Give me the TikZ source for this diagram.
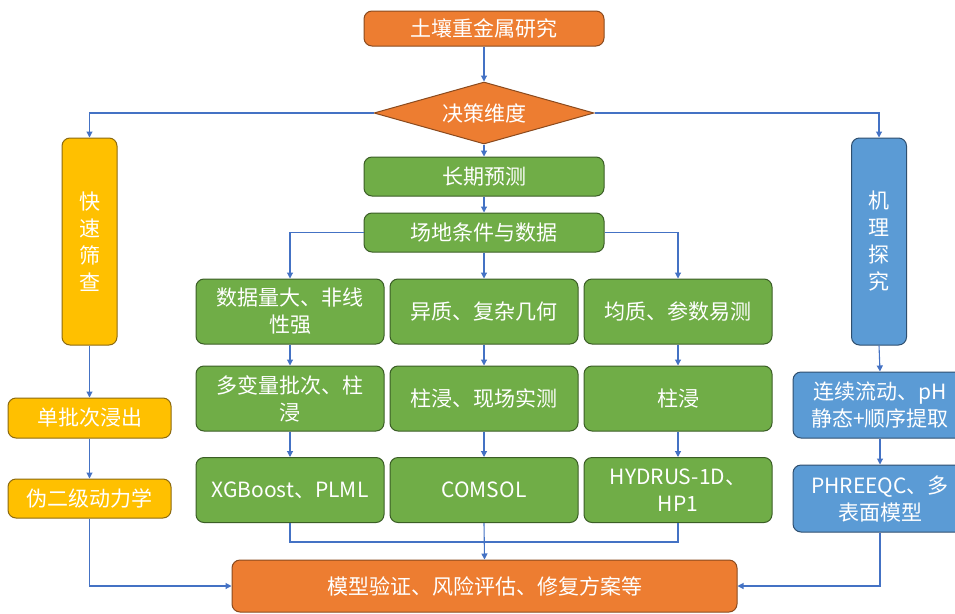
\documentclass[tikz,border=0pt]{standalone}
\usepackage{fontspec}
\setmainfont{Noto Sans CJK SC}
\usetikzlibrary{arrows.meta,shapes.geometric}
\definecolor{cOrange}{HTML}{ED7D31}
\definecolor{cOrangeD}{HTML}{8A4A1E}
\definecolor{cGreen}{HTML}{70AD47}
\definecolor{cGreenD}{HTML}{3B5E26}
\definecolor{cYellow}{HTML}{FFC000}
\definecolor{cYellowD}{HTML}{8C6A10}
\definecolor{cBlue}{HTML}{5B9BD5}
\definecolor{cBlueD}{HTML}{2F4F6F}
\definecolor{cLine}{HTML}{4472C4}
\tikzset{
  x=1pt,y=-1pt,
  boxbase/.style={rectangle,rounded corners=8pt,line width=1pt,text=white,
    font=\fontsize{21}{27}\selectfont,align=center,inner sep=0pt},
  obox/.style={boxbase,fill=cOrange,draw=cOrangeD},
  gbox/.style={boxbase,fill=cGreen,draw=cGreenD},
  ybox/.style={boxbase,fill=cYellow,draw=cYellowD},
  bbox/.style={boxbase,fill=cBlue,draw=cBlueD},
  conn/.style={draw=cLine,line width=1.1pt},
  arr/.style={conn,-{Triangle[width=6pt,length=6pt]}}
}
\begin{document}
\begin{tikzpicture}
\useasboundingbox[fill=white] (0,0) rectangle (955,613);
% top
\node[obox,minimum width=240pt,minimum height=35pt] (top) at (484,28.5) {土壤重金属研究};
\node[diamond,aspect=3.5,fill=cOrange,draw=cOrangeD,line width=1pt,text=white,
  font=\fontsize{21}{27}\selectfont,inner sep=0pt,
  minimum width=220pt,minimum height=62pt] (dia) at (484,113) {决策维度};
% middle column
\node[gbox,minimum width=240pt,minimum height=39pt] (lt) at (484,176.5) {长期预测};
\node[gbox,minimum width=240pt,minimum height=39pt] (field) at (484,232.5) {场地条件与数据};
\node[gbox,minimum width=188pt,minimum height=65pt] (r1a) at (290,311.5) {数据量大、非线\\性强};
\node[gbox,minimum width=188pt,minimum height=65pt] (r1b) at (484,311.5) {异质、复杂几何};
\node[gbox,minimum width=188pt,minimum height=65pt] (r1c) at (678,311.5) {均质、参数易测};
\node[gbox,minimum width=188pt,minimum height=65pt] (r2a) at (290,398.5) {多变量批次、柱\\浸};
\node[gbox,minimum width=188pt,minimum height=65pt] (r2b) at (484,398.5) {柱浸、现场实测};
\node[gbox,minimum width=188pt,minimum height=65pt] (r2c) at (678,398.5) {柱浸};
\node[gbox,minimum width=188pt,minimum height=65pt] (r3a) at (290,490) {XGBoost、PLML};
\node[gbox,minimum width=188pt,minimum height=65pt] (r3b) at (484,490) {COMSOL};
\node[gbox,minimum width=188pt,minimum height=65pt] (r3c) at (678,490) {HYDRUS-1D、\\HP1};
\node[obox,minimum width=505pt,minimum height=52pt] (bot) at (484.5,586) {模型验证、风险评估、修复方案等};
% left column
\node[ybox,minimum width=55pt,minimum height=207pt] (fast) at (89.5,241.5) {快\\速\\筛\\查};
\node[ybox,minimum width=163pt,minimum height=40pt] (single) at (89.5,418) {单批次浸出};
\node[ybox,minimum width=163pt,minimum height=39pt] (pso) at (89.5,498.5) {伪二级动力学};
% right column
\node[bbox,minimum width=55pt,minimum height=207pt] (mech) at (879,241.5) {机\\理\\探\\究};
\node[bbox,minimum width=174pt,minimum height=66pt] (flow) at (880,405) {连续流动、pH\\静态+顺序提取};
\node[bbox,minimum width=174pt,minimum height=67pt] (phr) at (880,498.5) {PHREEQC、多\\表面模型};
% connectors
\draw[arr] (top.south) -- (dia.north);
\draw[arr] (dia.west) -| (fast.north);
\draw[arr] (dia.east) -| (mech.north);
\draw[arr] (dia.south) -- (lt.north);
\draw[arr] (lt.south) -- (field.north);
\draw[arr] (field.west) -| (r1a.north);
\draw[arr] (field.south) -- (r1b.north);
\draw[arr] (field.east) -| (r1c.north);
\draw[arr] (r1a.south) -- (r2a.north);
\draw[arr] (r1b.south) -- (r2b.north);
\draw[arr] (r1c.south) -- (r2c.north);
\draw[arr] (r2a.south) -- (r3a.north);
\draw[arr] (r2b.south) -- (r3b.north);
\draw[arr] (r2c.south) -- (r3c.north);
\coordinate (merge) at (484,542);
\draw[conn] (r3a.south) |- (merge);
\draw[conn] (r3c.south) |- (merge);
\draw[arr] (r3b.south) -- (bot.north);
\draw[arr] (fast.south) -- (single.north);
\draw[arr] (single.south) -- (pso.north);
\draw[arr] (pso.south) |- (bot.west);
\draw[arr] (mech.south) -- (flow.north);
\draw[arr] (flow.south) -- (phr.north);
\draw[arr] (phr.south) |- (bot.east);
\end{tikzpicture}
\end{document}
